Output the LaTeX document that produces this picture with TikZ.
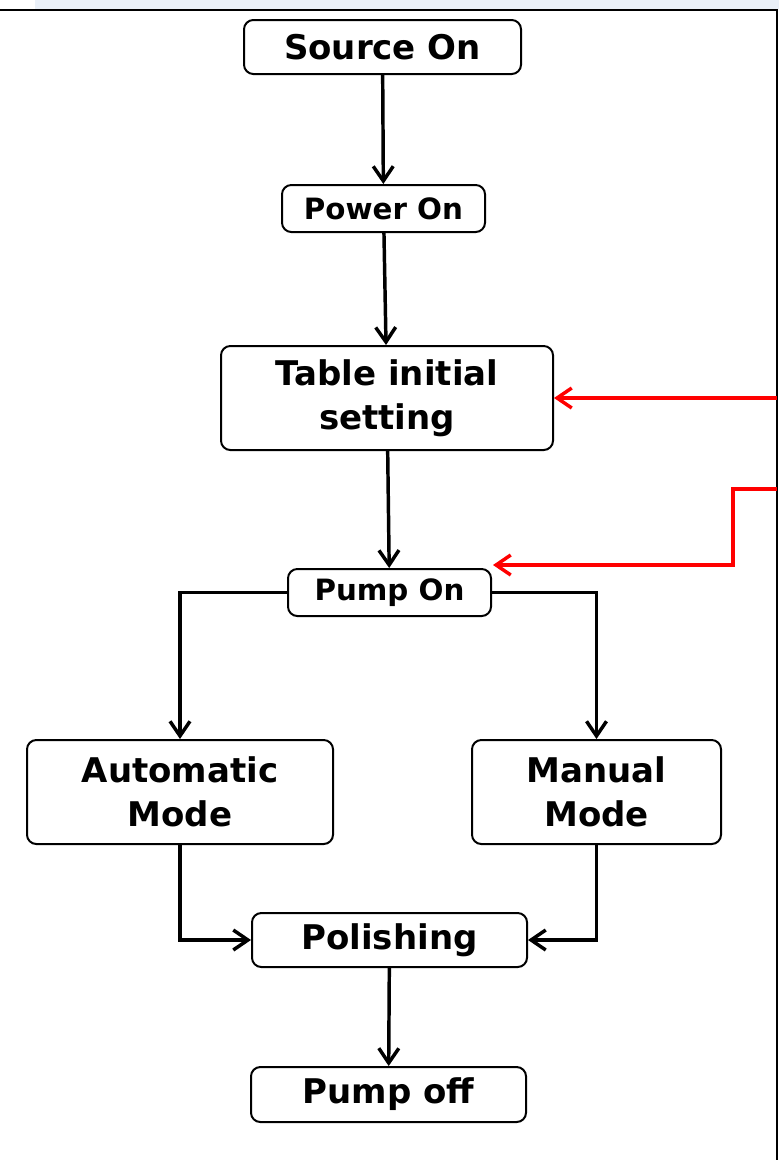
\documentclass[tikz,border=0pt]{standalone}
\usepackage{fontspec}
\setmainfont{DejaVu Sans}
\usepackage{xcolor}
\usetikzlibrary{arrows.meta, calc}

\definecolor{bandblue}{HTML}{EAF0F8}
\definecolor{flowred}{HTML}{FF0000}

\tikzset{
	stepbox/.style = {draw, line width = 1.5pt, rounded corners = 7pt, inner sep = 0pt, align = center, font = \bfseries\fontsize{25.5}{33}\selectfont},
	smallbox/.style = {stepbox, font = \bfseries\fontsize{22}{28}\selectfont},
	flow/.style = {line width = 2.6pt, -{Straight Barb[length = 11pt, width = 15pt, line width = 2.6pt]}},
	backflow/.style = {flow, flowred}
}

\begin{document}
\begin{tikzpicture}[x = 0.75pt, y = -0.75pt]
		%size of the page
		\def\u{0.75pt}
		\useasboundingbox (0,0) rectangle (779,1160);
		
		%frame
		\fill [bandblue] (35,0) rectangle (779,9);
		\draw [line width = 2pt] (0,10) -- (777,10) -- (777,1160);
		
		%nodes
		\node [stepbox, minimum width = 277*\u, minimum height = 54*\u] (source on) at (382.5,47) {Source On};
		\node [smallbox, minimum width = 203*\u, minimum height = 47*\u] (power on) at (383.5,208.5) {Power On};
		\node [stepbox, minimum width = 332*\u, minimum height = 104*\u] (table) at (387,398) {Table initial\\setting};
		\node [smallbox, minimum width = 203*\u, minimum height = 47*\u] (pump on) at (389.5,592.5) {Pump On};
		\node [stepbox, minimum width = 306*\u, minimum height = 104*\u] (automatic) at (180,792) {Automatic\\Mode};
		\node [stepbox, minimum width = 249*\u, minimum height = 104*\u] (manual) at (596.5,792) {Manual\\Mode};
		\node [stepbox, minimum width = 275*\u, minimum height = 54*\u] (polishing) at (389.5,940) {Polishing};
		\node [stepbox, minimum width = 275*\u, minimum height = 55*\u] (pump off) at (388.5,1094.5) {Pump off};
		
		%coordinates of the red lines
		\coordinate (reset table) at (777,398);
		\coordinate (reset pump) at (777,489);
		\coordinate (reset bend) at (733,489);
		\coordinate (reset end) at (493,565);
		
		%arrows
		\draw [flow] (source on) -- (power on);
		\draw [flow] (power on) -- (table);
		\draw [flow] (table) -- (pump on);
		\draw [flow] (pump on.west) -| (automatic.north);
		\draw [flow] (pump on.east) -| (manual.north);
		\draw [flow] (automatic.south) |- (polishing.west);
		\draw [flow] (manual.south) |- (polishing.east);
		\draw [flow] (polishing) -- (pump off);
		
		\draw [backflow] (reset table) -- (table.east);
		\draw [backflow] (reset pump) -- (reset bend) |- (reset end);
	\end{tikzpicture}
\end{document}
